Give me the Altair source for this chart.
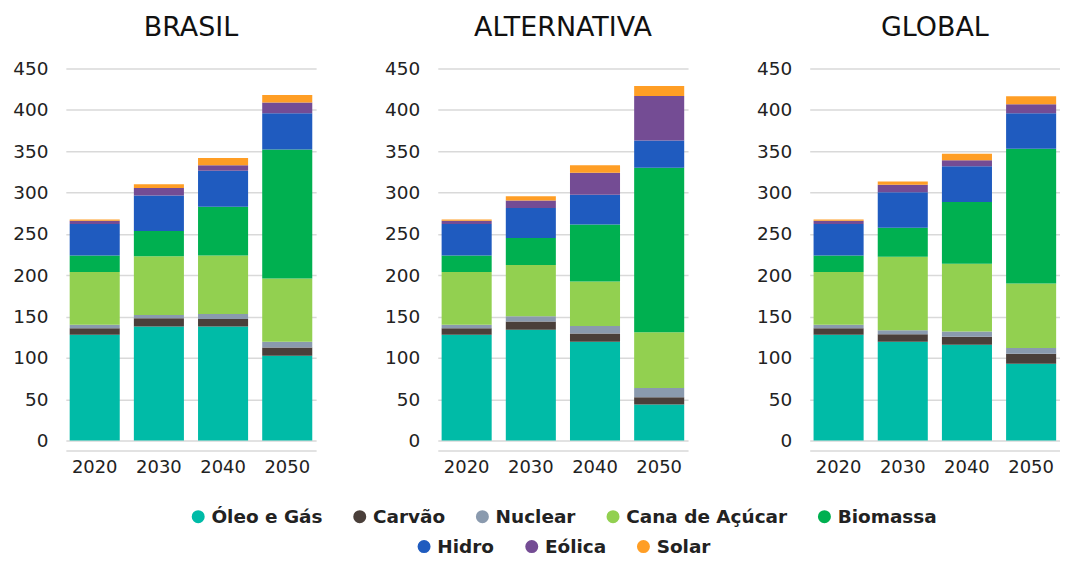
import altair as alt
import pandas as pd

anos = ["2020", "2030", "2040", "2050"]
cenarios = ["BRASIL", "ALTERNATIVA", "GLOBAL"]
fontes = ["Óleo e Gás", "Carvão", "Nuclear", "Cana de Açúcar", "Biomassa", "Hidro", "Eólica", "Solar"]
cores = ["#00BBA7", "#4A3F3A", "#8A9AAE", "#92D050", "#00B050", "#1F5BBF", "#744C94", "#FF9E25"]

# segment values per source, years 2020..2050
brasil = {
    "Óleo e Gás": [128, 138, 138, 102.5],
    "Carvão": [8, 10, 9, 10],
    "Nuclear": [4, 4, 6, 7],
    "Cana de Açúcar": [64, 71, 71, 76.5],
    "Biomassa": [20, 30.5, 59, 156],
    "Hidro": [38, 43, 43.5, 44],
    "Eólica": [4, 9, 6.5, 13],
    "Solar": [1.5, 4.5, 9, 9],
}
alternativa = {
    "Óleo e Gás": [128, 134, 119.5, 43.5],
    "Carvão": [8, 10, 10, 9],
    "Nuclear": [4, 6.5, 9, 11],
    "Cana de Açúcar": [64, 62, 54, 67.5],
    "Biomassa": [20, 32.5, 69, 199],
    "Hidro": [38, 36.5, 36, 33],
    "Eólica": [4, 9, 26.5, 54],
    "Solar": [1.5, 5, 9, 12],
}
global_ = {
    "Óleo e Gás": [128, 119.5, 116, 93],
    "Carvão": [8, 9, 9.5, 12],
    "Nuclear": [4, 5, 6.5, 7],
    "Cana de Açúcar": [64, 89, 82, 78],
    "Biomassa": [20, 35, 74.5, 163],
    "Hidro": [38, 43, 43.5, 43],
    "Eólica": [4, 9, 7, 11],
    "Solar": [1.5, 4, 8, 9.5],
}

FONT = "DejaVu Sans"

rows = []
for cen, dados in zip(cenarios, [brasil, alternativa, global_]):
    for i, f in enumerate(fontes):
        for ano, v in zip(anos, dados[f]):
            rows.append({"cenario": cen, "ano": ano, "fonte": f, "ordem": i, "valor": v})
df = pd.DataFrame(rows)

bars = alt.Chart(df).mark_bar().encode(
    x=alt.X("ano:N", title=None,
            scale=alt.Scale(paddingInner=0.22, paddingOuter=0.06),
            axis=alt.Axis(labelAngle=0, ticks=False, domain=True, domainColor="#d9d9d9",
                          domainWidth=1.5, labelPadding=8, labelFontSize=18,
                          labelFont=FONT, labelColor="#222", grid=False)),
    y=alt.Y("valor:Q", stack="zero", title=None,
            scale=alt.Scale(domain=[0, 450], nice=False),
            axis=alt.Axis(values=list(range(0, 451, 50)), ticks=False, domain=False,
                          grid=True, gridColor="#d9d9d9", gridWidth=1.5,
                          labelPadding=18, labelFontSize=18.5, labelFont=FONT,
                          labelColor="#222")),
    color=alt.Color("fonte:N", scale=alt.Scale(domain=fontes, range=cores), legend=None),
    order=alt.Order("ordem:Q", sort="ascending"),
).properties(width=251, height=373)

panel = bars.facet(
    column=alt.Column("cenario:N", sort=cenarios, title=None,
                      header=alt.Header(labelFontSize=27, labelFont=FONT, labelColor="#111",
                                        labelPadding=18)),
    spacing=68,
).resolve_axis(y="independent")


def legenda(sub):
    d = pd.DataFrame({"fonte": sub})
    sub_cores = [cores[fontes.index(f)] for f in sub]
    return alt.Chart(d).mark_circle(size=0, opacity=0).encode(
        color=alt.Color("fonte:N", sort=sub,
                        scale=alt.Scale(domain=sub, range=sub_cores),
                        legend=alt.Legend(orient="bottom", direction="horizontal", title=None,
                                          symbolType="circle", symbolSize=170, symbolOpacity=1,
                                          symbolStrokeWidth=0, labelFontSize=18.5, labelFont=FONT,
                                          labelFontWeight="bold", labelColor="#222",
                                          columnPadding=28, labelLimit=400, offset=0, padding=0))
    ).properties(width=1, height=1)


legendas = alt.vconcat(legenda(fontes[:5]), legenda(fontes[5:]), spacing=10,
                       center=True).resolve_scale(color="independent")

chart = alt.vconcat(panel, legendas, spacing=30, center=True).resolve_scale(
    color="independent"
).properties(
    padding={"left": 4, "top": 5, "right": 0, "bottom": 0}
).configure_view(stroke=None)

chart.save("out.html", embed_options={"renderer": "svg", "actions": False})
